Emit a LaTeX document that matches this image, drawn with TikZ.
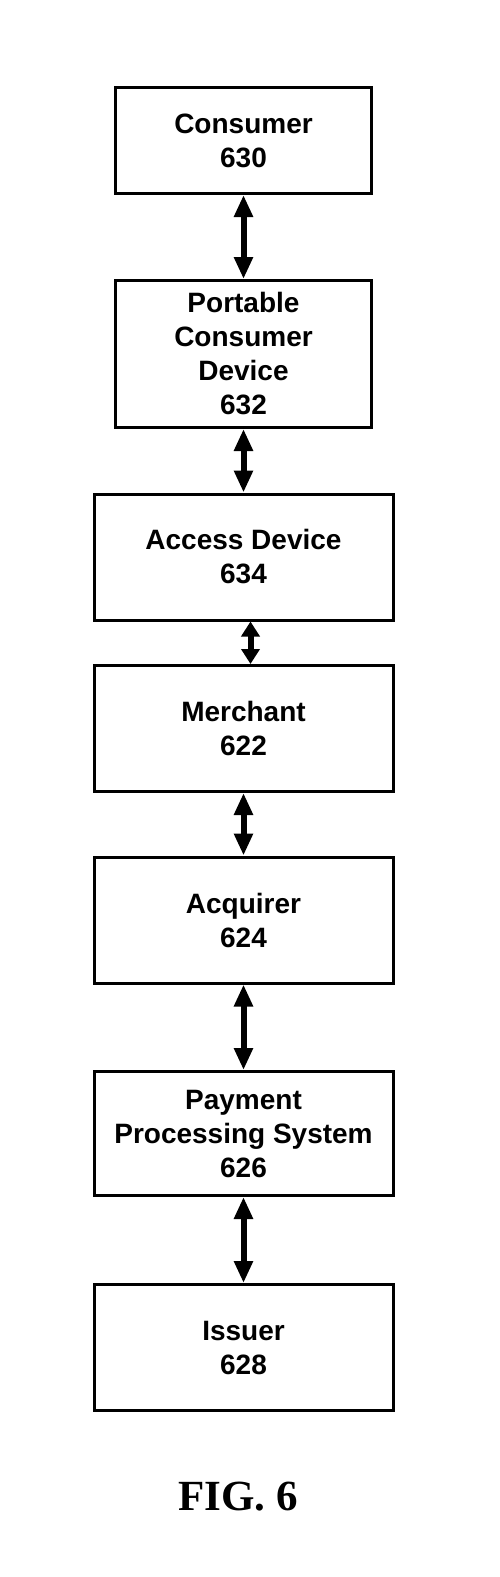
\documentclass[tikz,border=0pt]{standalone}
\usepackage{fontspec}
\setmainfont{Liberation Sans}
\newfontfamily\figfont{Liberation Serif}
\usetikzlibrary{arrows.meta}

\begin{document}
\begin{tikzpicture}[x=1pt,y=1pt,
    pay block/.style={draw, line width=3pt, rectangle, minimum width=299pt, minimum height=126pt, align=center, font=\bfseries\fontsize{28}{34}\selectfont},
    top block/.style={pay block, minimum width=256pt},
    link/.style={line width=6pt, {Triangle[width=18pt,length=22pt]}-{Triangle[width=18pt,length=22pt]}},
    short link/.style={line width=6pt, {Triangle[width=18pt,length=15pt]}-{Triangle[width=18pt,length=15pt]}}]
    \useasboundingbox (0,0) rectangle (500,-1577);

    % Blocks of the payment chain
    \node[top block, minimum height=106pt] (consumer) at (243.5,-140.5) {Consumer\\630};
    \node[top block, minimum height=147pt] (device) at (243.5,-354) {Portable\\Consumer\\Device\\632};
    \node[pay block] (access) at (243.5,-557) {Access Device\\634};
    \node[pay block] (merchant) at (243.5,-728.5) {Merchant\\622};
    \node[pay block] (acquirer) at (243.5,-920) {Acquirer\\624};
    \node[pay block, minimum height=124pt] (processing) at (243.5,-1133.5) {Payment\\Processing System\\626};
    \node[pay block] (issuer) at (243.5,-1347.5) {Issuer\\628};

    % Two-way links
    \draw[link] (consumer) -- (device);
    \draw[link] (device) -- (access);
    \draw[short link] ([xshift=7pt]access.south) -- ([xshift=7pt]merchant.north);
    \draw[link] (merchant) -- (acquirer);
    \draw[link] (acquirer) -- (processing);
    \draw[link] (processing) -- (issuer);

    % Caption
    \node[font=\figfont\bfseries\fontsize{43}{50}\selectfont] (caption) at (238,-1497) {FIG. 6};
\end{tikzpicture}
\end{document}
